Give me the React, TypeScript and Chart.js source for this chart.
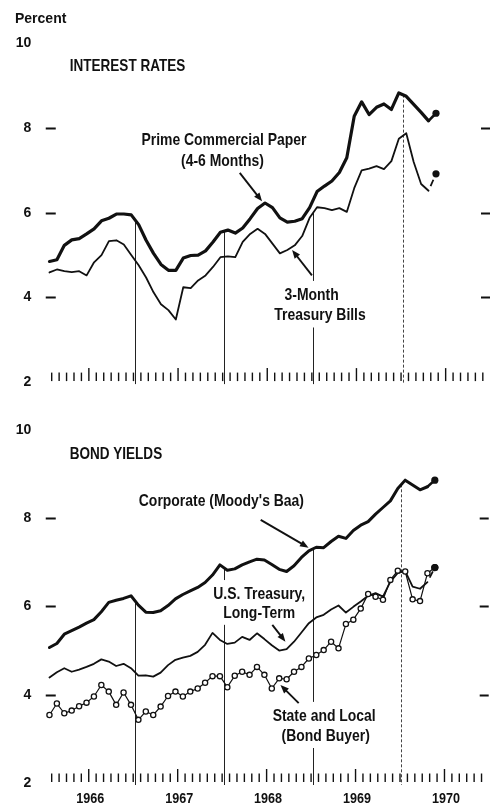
import React, { useEffect, useRef } from "react";
import { Chart, registerables } from "chart.js";

Chart.register(...registerables);

// ---------- DATA (monthly, index 0 = Jan 1966 ... index 51 = Apr 1970) ----------
const primeCommercialPaper = [
  4.85, 4.89, 5.23, 5.36, 5.39, 5.5, 5.62, 5.81, 5.87, 5.97, 5.97, 5.95,
  5.72, 5.35, 5.04, 4.78, 4.64, 4.64, 4.93, 4.99, 5.0, 5.1, 5.31, 5.54,
  5.59, 5.52, 5.64, 5.86, 6.1, 6.23, 6.12, 5.88, 5.78, 5.8, 5.86, 6.12,
  6.5, 6.63, 6.75, 6.95, 7.3, 8.28, 8.62, 8.32, 8.49, 8.57, 8.44, 8.83,
  8.75, 8.56, 8.37, 8.17,
];
const treasuryBills3M = [
  4.59, 4.66, 4.62, 4.6, 4.62, 4.52, 4.83, 5.0, 5.33, 5.35, 5.25, 5.0,
  4.76, 4.47, 4.12, 3.84, 3.7, 3.48, 4.24, 4.22, 4.4, 4.52, 4.72, 4.95,
  4.97, 4.95, 5.31, 5.5, 5.62, 5.5, 5.27, 5.04, 5.12, 5.23, 5.45, 5.88,
  6.13, 6.11, 6.06, 6.11, 6.02, 6.58, 7.0, 7.04, 7.1, 7.03, 7.22, 7.75,
  7.88, 7.2, 6.68, 6.52,
];
const corporateBaa = [
  5.07, 5.16, 5.37, 5.45, 5.53, 5.62, 5.7, 5.88, 6.09, 6.14, 6.18, 6.24,
  6.03, 5.87, 5.86, 5.9, 6.02, 6.17, 6.27, 6.35, 6.43, 6.54, 6.71, 6.94,
  6.82, 6.85, 6.94, 7.01, 7.07, 7.05, 6.95, 6.84, 6.79, 6.92, 7.11, 7.26,
  7.34, 7.33, 7.47, 7.59, 7.54, 7.72, 7.84, 7.92, 8.09, 8.24, 8.39, 8.67,
  8.86, 8.75, 8.64, 8.71,
];
const treasuryLongTerm = [
  4.39, 4.51, 4.6, 4.52, 4.57, 4.63, 4.7, 4.8, 4.75, 4.65, 4.7, 4.6,
  4.43, 4.44, 4.41, 4.5, 4.67, 4.79, 4.84, 4.88, 4.97, 5.13, 5.4, 5.24,
  5.15, 5.18, 5.31, 5.24, 5.39, 5.26, 5.12, 5.0, 5.03, 5.2, 5.41, 5.62,
  5.75, 5.81, 5.93, 6.02, 5.86, 5.99, 6.11, 6.24, 6.3, 6.22, 6.56, 6.76,
  6.8, 6.45, 6.4, 6.55,
];
const stateAndLocal = [
  3.54, 3.8, 3.58, 3.64, 3.74, 3.82, 3.96, 4.22, 4.07, 3.77, 4.05, 3.77,
  3.43, 3.62, 3.54, 3.73, 3.97, 4.07, 3.96, 4.07, 4.14, 4.27, 4.42, 4.42,
  4.17, 4.43, 4.52, 4.45, 4.63, 4.45, 4.14, 4.37, 4.35, 4.52, 4.63, 4.82,
  4.9, 5.01, 5.2, 5.05, 5.6, 5.7, 5.95, 6.28, 6.22, 6.15, 6.6, 6.81,
  6.79, 6.16, 6.12, 6.75,
];
// latest (preliminary) readings, drawn as solid dots
const latestMonth = 52;
const latestPrime = 8.35;
const latestBills = 6.92;
const latestBaa = 8.86;
const latestLongTerm = 6.88;
const latestStateLocal = 6.88;

const yearLabels = ["1966", "1967", "1968", "1969", "1970"];
const yTickValues = [2, 4, 6, 8, 10];
const dashValues = [4, 6, 8];
const yearBoundaries = [11.5, 23.5, 35.5, 47.5];

// ---------- STYLE ----------
const INK = "#111";
const FONT = '"Liberation Sans", Arial, sans-serif';
const Y_AXIS_W = 45.75;
const MONTH_PX = 7.5;
const X_MAX = -0.5 + (494 - Y_AXIS_W) / MONTH_PX;

type TextItem = { text: string; m: number; v: number; size: number; sx: number; align: "left" | "center"; mask?: boolean };
type Arrow = { from: [number, number]; to: [number, number] };
type YearLine = { m: number; series: number[]; dashed?: boolean };

const topTexts: TextItem[] = [
  { text: "INTEREST RATES", m: 2.73, v: 9.49, size: 16.5, sx: 0.82, align: "left" },
  { text: "Prime Commercial Paper", m: 23.47, v: 7.75, size: 17, sx: 0.82, align: "center" },
  { text: "(4-6 Months)", m: 23.27, v: 7.26, size: 17, sx: 0.82, align: "center" },
  { text: "3-Month", m: 35.27, v: 4.08, size: 17, sx: 0.82, align: "center", mask: true },
  { text: "Treasury Bills", m: 36.4, v: 3.6, size: 17, sx: 0.82, align: "center", mask: true },
];
const topArrows: Arrow[] = [
  { from: [25.6, 6.94], to: [28.6, 6.27] },
  { from: [35.31, 4.52], to: [32.64, 5.12] },
];
const bottomTexts: TextItem[] = [
  { text: "BOND YIELDS", m: 2.73, v: 9.47, size: 16.5, sx: 0.82, align: "left" },
  { text: "Corporate (Moody's Baa)", m: 23.2, v: 8.41, size: 17, sx: 0.82, align: "center" },
  { text: "U.S. Treasury,", m: 28.3, v: 6.3, size: 17, sx: 0.82, align: "center", mask: true },
  { text: "Long-Term", m: 28.3, v: 5.88, size: 17, sx: 0.82, align: "center", mask: true },
  { text: "State and Local", m: 37.07, v: 3.54, size: 17, sx: 0.82, align: "center", mask: true },
  { text: "(Bond Buyer)", m: 37.27, v: 3.09, size: 17, sx: 0.82, align: "center", mask: true },
];
const bottomArrows: Arrow[] = [
  { from: [28.5, 7.96], to: [34.96, 7.33] },
  { from: [30.07, 5.58], to: [31.84, 5.2] },
  { from: [33.63, 3.81], to: [31.17, 4.22] },
];

function valueAt(series: number[], m: number) {
  const i = Math.floor(m);
  const f = m - i;
  const a = series[Math.max(0, Math.min(series.length - 1, i))];
  const b = series[Math.max(0, Math.min(series.length - 1, i + 1))];
  return a + (b - a) * f;
}

function pts(series: number[]) {
  return series.map((y, i) => ({ x: i, y }));
}

function textMetrics(ctx: CanvasRenderingContext2D, t: TextItem, x: number) {
  ctx.font = `bold ${t.size}px ${FONT}`;
  const w = ctx.measureText(t.text).width * t.sx;
  const left = t.align === "center" ? x - w / 2 : x;
  return { w, left, cap: t.size * 0.72 };
}

function drawArrow(ctx: CanvasRenderingContext2D, x1: number, y1: number, x2: number, y2: number) {
  const a = Math.atan2(y2 - y1, x2 - x1);
  const L = 8.5, W = 3.4;
  const c = Math.cos(a), s = Math.sin(a);
  ctx.beginPath();
  ctx.moveTo(x1, y1);
  ctx.lineTo(x2 - L * 0.6 * c, y2 - L * 0.6 * s);
  ctx.lineWidth = 1.9;
  ctx.stroke();
  ctx.beginPath();
  ctx.moveTo(x2, y2);
  ctx.lineTo(x2 - L * c + W * s, y2 - L * s - W * c);
  ctx.lineTo(x2 - L * c - W * s, y2 - L * s + W * c);
  ctx.closePath();
  ctx.fill();
}

function makeDecor(spec: { texts: TextItem[]; arrows: Arrow[]; yearLines: YearLine[]; percent?: boolean; years?: boolean }) {
  return {
    id: "decor",
    beforeDatasetsDraw(chart: any) {
      const { ctx, chartArea: ca } = chart;
      const x = chart.scales.x, y = chart.scales.y;
      const y2 = y.getPixelForValue(2);
      ctx.save();
      ctx.strokeStyle = INK;
      ctx.fillStyle = INK;
      // month tick row
      ctx.lineWidth = 1.4;
      for (let k = 0; k < 60; k++) {
        const px = x.getPixelForValue(k + 0.3);
        if (px > ca.right - 0.7) continue;
        const tall = k % 12 === 5;
        ctx.beginPath();
        ctx.moveTo(px, y2 - (tall ? 14 : 9.5));
        ctx.lineTo(px, y2 - 1);
        ctx.stroke();
      }
      // side dashes
      ctx.lineWidth = 1.8;
      for (const v of dashValues) {
        const py = Math.round(y.getPixelForValue(v)) + 0.5;
        ctx.beginPath();
        ctx.moveTo(ca.left, py); ctx.lineTo(ca.left + 10, py);
        ctx.moveTo(ca.right - 9, py); ctx.lineTo(ca.right, py);
        ctx.stroke();
      }
      // year separator lines
      for (const yl of spec.yearLines) {
        const px = Math.round(x.getPixelForValue(yl.m)) + 0.5;
        ctx.lineWidth = 1;
        ctx.strokeStyle = yl.dashed ? "#444" : "#222";
        ctx.setLineDash(yl.dashed ? [3, 2] : []);
        ctx.beginPath();
        ctx.moveTo(px, y.getPixelForValue(valueAt(yl.series, yl.m)));
        ctx.lineTo(px, y2 + 2);
        ctx.stroke();
      }
      ctx.setLineDash([]);
      // white masks behind labels that interrupt separator lines
      ctx.fillStyle = "#fff";
      for (const t of spec.texts) {
        if (!t.mask) continue;
        const cx = x.getPixelForValue(t.m), cy = y.getPixelForValue(t.v);
        const { w, left, cap } = textMetrics(ctx, t, cx);
        ctx.fillRect(left - 3, cy - cap / 2 - 7, w + 6, cap + 14);
      }
      ctx.restore();
    },
    afterDatasetsDraw(chart: any) {
      const { ctx, chartArea: ca } = chart;
      const x = chart.scales.x, y = chart.scales.y;
      ctx.save();
      ctx.fillStyle = INK;
      ctx.strokeStyle = INK;
      ctx.textBaseline = "alphabetic";
      ctx.textAlign = "left";
      for (const t of spec.texts) {
        const cx = x.getPixelForValue(t.m), cy = y.getPixelForValue(t.v);
        const { left, cap } = textMetrics(ctx, t, cx);
        ctx.save();
        ctx.translate(left, cy + cap / 2);
        ctx.scale(t.sx, 1);
        ctx.fillText(t.text, 0, 0);
        ctx.restore();
      }
      for (const a of spec.arrows) {
        drawArrow(ctx, x.getPixelForValue(a.from[0]), y.getPixelForValue(a.from[1]),
          x.getPixelForValue(a.to[0]), y.getPixelForValue(a.to[1]));
      }
      if (spec.percent) {
        ctx.font = `bold 14px ${FONT}`;
        ctx.fillText("Percent", 15, ca.top - 20.5);
      }
      if (spec.years) {
        const y2 = y.getPixelForValue(2);
        const size = 14, sx = 0.9;
        ctx.font = `bold ${size}px ${FONT}`;
        yearLabels.forEach((lab, j) => {
          const px = x.getPixelForValue(5.5 + 12 * j);
          const w = ctx.measureText(lab).width * sx;
          ctx.save();
          ctx.translate(px - w / 2, y2 + 15 + size * 0.36);
          ctx.scale(sx, 1);
          ctx.fillText(lab, 0, 0);
          ctx.restore();
        });
      }
      ctx.restore();
    },
  };
}

function lineDs(series: number[], width: number, extra: any = {}) {
  return {
    data: pts(series),
    borderColor: INK,
    borderWidth: width,
    pointRadius: 0,
    tension: 0,
    fill: false,
    borderJoinStyle: "round",
    borderCapStyle: "round",
    ...extra,
  };
}

function tailDs(series: number[], latest: number, width: number, dashed: boolean) {
  return {
    data: [{ x: series.length - 1, y: series[series.length - 1] }, { x: latestMonth, y: latest }],
    borderColor: INK,
    borderWidth: width,
    borderDash: dashed ? [0, 5, 7, 100] : [],
    pointRadius: [0, 3.6],
    pointBackgroundColor: INK,
    pointBorderWidth: 0,
    tension: 0,
    fill: false,
  };
}

function baseOptions(padTop: number, padBottom: number) {
  return {
    responsive: false,
    animation: false as const,
    events: [] as any[],
    layout: { padding: { top: padTop, bottom: padBottom, left: 0, right: 0 } },
    plugins: { legend: { display: false }, tooltip: { enabled: false }, title: { display: false } },
    scales: {
      x: { type: "linear" as const, min: -0.5, max: X_MAX, display: false },
      y: {
        type: "linear" as const,
        min: 2,
        max: 10,
        position: "left" as const,
        afterFit: (s: any) => { s.width = Y_AXIS_W; },
        afterBuildTicks: (s: any) => { s.ticks = yTickValues.map((value) => ({ value })); },
        grid: { display: false, drawTicks: false },
        border: { display: false },
        ticks: { padding: 14.5, color: INK, font: { family: FONT, size: 14, weight: "bold" as const } },
      },
    },
  };
}

export default function App() {
  const topRef = useRef<HTMLCanvasElement>(null);
  const botRef = useRef<HTMLCanvasElement>(null);

  useEffect(() => {
    const top = new Chart(topRef.current as HTMLCanvasElement, {
      type: "line",
      data: {
        datasets: [
          lineDs(primeCommercialPaper, 3.2),
          tailDs(primeCommercialPaper, latestPrime, 2.6, false),
          lineDs(treasuryBills3M, 1.8),
          tailDs(treasuryBills3M, latestBills, 1.8, true),
        ] as any,
      },
      options: baseOptions(43.4, 12) as any,
      plugins: [
        makeDecor({
          texts: topTexts,
          arrows: topArrows,
          percent: true,
          yearLines: [
            { m: yearBoundaries[0], series: primeCommercialPaper },
            { m: yearBoundaries[1], series: primeCommercialPaper },
            { m: yearBoundaries[2], series: treasuryBills3M },
            { m: yearBoundaries[3], series: primeCommercialPaper, dashed: true },
          ],
        }),
      ],
    });
    const bottom = new Chart(botRef.current as HTMLCanvasElement, {
      type: "line",
      data: {
        datasets: [
          lineDs(stateAndLocal, 1.2, {
            pointRadius: 2.6,
            pointBorderWidth: 1.3,
            pointBorderColor: INK,
            pointBackgroundColor: "#fff",
          }),
          tailDs(stateAndLocal, latestStateLocal, 1.2, false),
          lineDs(corporateBaa, 3),
          tailDs(corporateBaa, latestBaa, 2.6, false),
          lineDs(treasuryLongTerm, 1.8),
          tailDs(treasuryLongTerm, latestLongTerm, 1.8, true),
        ] as any,
      },
      options: baseOptions(24.8, 24) as any,
      plugins: [
        makeDecor({
          texts: bottomTexts,
          arrows: bottomArrows,
          years: true,
          yearLines: [
            { m: yearBoundaries[0], series: corporateBaa },
            { m: yearBoundaries[1], series: corporateBaa },
            { m: yearBoundaries[2], series: corporateBaa },
            { m: yearBoundaries[3], series: corporateBaa, dashed: true },
          ],
        }),
      ],
    });
    return () => {
      top.destroy();
      bottom.destroy();
    };
  }, []);

  return (
    <div style={{ position: "absolute", left: 0, top: 0, width: 494, height: 807, background: "#fff", overflow: "hidden" }}>
      <canvas ref={topRef} width={494} height={405} style={{ display: "block" }} />
      <canvas ref={botRef} width={494} height={402} style={{ display: "block" }} />
    </div>
  );
}
